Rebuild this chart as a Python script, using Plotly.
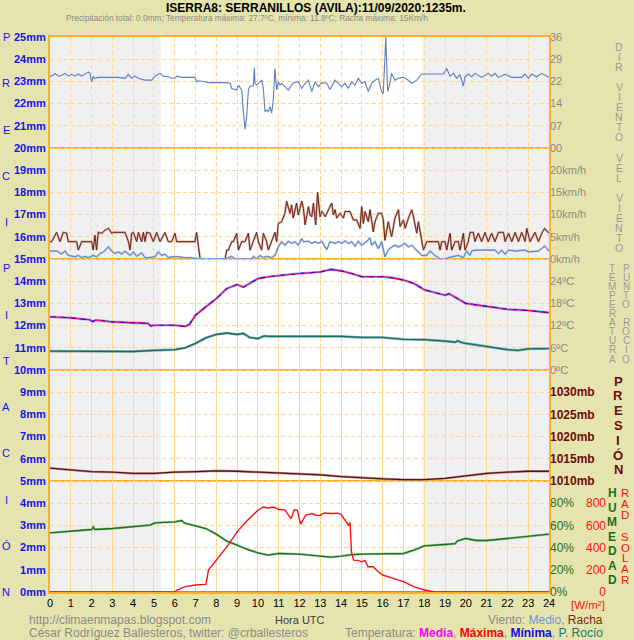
import plotly.graph_objects as go

# ---- values (hour UTC, value) ----
PRECIP = [(0.0, 0.0), (24.0, 0.0)]

WIND_DIR = [  # tens of degrees
    (0.0, 23.3), (0.08, 23.3), (0.24, 24.2), (0.40, 23.3), (0.56, 23.6), (0.72, 24.2),
    (0.88, 23.3), (1.04, 23.9), (1.20, 23.3), (1.36, 24.0), (1.52, 23.3), (1.68, 23.9),
    (1.84, 24.7), (1.92, 24.2), (2.00, 21.5), (2.08, 23.1), (2.16, 22.6), (2.32, 22.9),
    (2.97, 22.9), (3.29, 22.9), (3.61, 22.6), (3.77, 23.9), (3.93, 22.6), (4.09, 23.3),
    (4.25, 22.6), (4.57, 22.0), (4.89, 22.0), (5.05, 23.3), (5.29, 24.2), (5.45, 23.3),
    (5.69, 23.1), (5.85, 22.6), (6.01, 22.6), (6.09, 23.3), (6.33, 22.9), (6.97, 22.9),
    (7.05, 21.5), (7.13, 21.8), (7.46, 21.5), (7.62, 21.2), (8.42, 21.2), (8.66, 21.0),
    (8.74, 19.3), (8.98, 18.8), (9.06, 20.4), (9.22, 18.8), (9.30, 11.8), (9.38, 6.1),
    (9.46, 10.2), (9.54, 18.8), (9.62, 20.1), (9.78, 20.1), (9.83, 26.1), (9.86, 20.9),
    (9.94, 20.4), (10.10, 21.5), (10.18, 22.0), (10.26, 19.3), (10.34, 11.8), (10.42, 12.3),
    (10.50, 11.8), (10.58, 13.4), (10.66, 11.3), (10.74, 15.6), (10.82, 25.8), (10.90, 18.8),
    (10.98, 21.5), (11.06, 20.4), (11.14, 21.0), (11.30, 19.9), (11.46, 18.8), (11.62, 20.4),
    (11.70, 21.2), (11.94, 21.5), (12.11, 19.3), (12.27, 20.9), (12.43, 22.0), (12.59, 18.3),
    (12.75, 21.5), (12.91, 19.9), (13.07, 21.2), (13.31, 21.0), (13.47, 19.0), (13.71, 22.0),
    (13.87, 21.0), (14.03, 19.9), (14.19, 21.0), (14.35, 19.3), (14.51, 21.5), (14.67, 20.4),
    (14.83, 22.6), (14.99, 21.0), (15.15, 21.5), (15.31, 18.3), (15.47, 21.0), (15.63, 22.0),
    (15.79, 22.6), (15.95, 18.3), (16.03, 17.7), (16.08, 26.3), (16.15, 36.0), (16.24, 18.3),
    (16.35, 21.0), (16.43, 24.2), (16.59, 22.0), (16.76, 22.6), (17.00, 22.9), (17.24, 22.0),
    (17.40, 21.0), (17.64, 22.0), (17.88, 24.0), (18.92, 24.0), (19.08, 25.8), (19.24, 23.3),
    (19.40, 24.2), (19.56, 22.6), (19.72, 23.9), (19.88, 20.1), (19.96, 23.1), (20.12, 24.0),
    (20.28, 23.1), (20.44, 24.2), (20.76, 22.9), (21.08, 24.2), (21.24, 23.3), (21.40, 24.2),
    (21.57, 22.9), (21.89, 23.9), (22.21, 22.9), (22.69, 22.9), (22.85, 24.0), (23.01, 22.6),
    (23.17, 24.0), (23.41, 23.1), (23.65, 24.2), (24.0, 22.9),
]

WIND_GUST = [  # km/h
    (0.0, 3.9), (0.08, 3.9), (0.32, 6.0), (0.48, 3.9), (0.64, 6.0), (0.80, 5.8), (0.88, 3.9),
    (1.28, 3.9), (1.36, 2.0), (1.52, 3.9), (2.00, 3.9), (2.08, 2.0), (2.16, 5.4), (2.24, 2.0),
    (2.32, 6.0), (2.49, 5.8), (2.65, 6.5), (2.81, 6.9), (2.97, 5.8), (3.05, 6.0), (3.61, 6.0),
    (3.77, 3.9), (3.85, 2.0), (3.93, 5.8), (4.01, 6.0), (4.17, 3.9), (4.25, 6.0), (4.41, 3.9),
    (4.49, 6.0), (4.57, 3.9), (4.65, 6.0), (4.81, 5.8), (4.97, 3.9), (5.13, 6.0), (5.29, 3.9),
    (5.53, 6.0), (5.69, 3.9), (5.85, 3.9), (6.01, 5.8), (6.09, 3.9), (6.49, 3.9), (6.97, 3.9),
    (7.05, 6.0), (7.13, 2.7), (7.22, 0.0), (8.42, 0.0), (8.50, 2.0), (8.58, 2.0), (8.74, 3.9),
    (8.82, 3.9), (8.98, 5.8), (9.06, 2.0), (9.22, 3.9), (9.38, 3.9), (9.54, 5.8), (9.62, 2.0),
    (9.78, 3.9), (9.94, 6.0), (10.02, 3.9), (10.18, 2.0), (10.26, 5.8), (10.42, 3.9),
    (10.50, 2.0), (10.66, 3.9), (10.82, 6.0), (10.90, 3.9), (10.98, 8.0), (11.14, 8.4),
    (11.30, 10.3), (11.38, 13.0), (11.54, 10.3), (11.62, 12.2), (11.70, 9.2), (11.86, 12.6),
    (11.94, 9.9), (12.11, 13.0), (12.19, 11.4), (12.27, 7.7), (12.43, 11.8), (12.51, 9.9),
    (12.59, 9.5), (12.67, 12.6), (12.78, 7.7), (12.87, 15.0), (12.99, 9.5), (13.07, 10.7),
    (13.15, 10.3), (13.23, 9.5), (13.31, 10.3), (13.39, 10.7), (13.55, 12.6), (13.63, 9.9),
    (13.71, 11.1), (13.79, 9.2), (13.95, 10.3), (14.11, 9.2), (14.19, 10.7), (14.43, 10.7),
    (14.59, 8.8), (14.75, 8.8), (14.91, 6.9), (14.99, 11.8), (15.07, 8.0), (15.15, 10.7),
    (15.31, 8.4), (15.39, 11.1), (15.55, 6.1), (15.63, 8.4), (15.79, 10.3), (15.95, 10.3),
    (16.03, 8.8), (16.11, 4.2), (16.27, 8.4), (16.43, 5.0), (16.59, 9.2), (16.76, 11.1),
    (16.84, 7.3), (17.00, 8.8), (17.08, 6.9), (17.24, 9.2), (17.40, 11.1), (17.48, 9.5),
    (17.64, 5.8), (17.72, 8.4), (17.88, 3.9), (17.96, 2.0), (18.12, 3.9), (18.68, 3.9),
    (18.76, 2.0), (18.84, 3.9), (19.00, 3.9), (19.08, 2.0), (19.24, 5.8), (19.32, 2.0),
    (19.48, 3.9), (19.64, 3.9), (19.72, 2.0), (19.80, 3.9), (19.88, 5.8), (19.96, 2.0),
    (20.12, 3.9), (20.20, 6.0), (20.36, 6.0), (20.44, 3.9), (20.60, 5.8), (20.76, 3.9),
    (20.92, 6.0), (21.08, 3.9), (21.24, 5.8), (21.40, 3.9), (21.57, 6.0), (21.81, 6.0),
    (21.89, 3.9), (22.05, 5.8), (22.21, 3.9), (22.37, 6.0), (22.53, 3.9), (22.69, 6.0),
    (22.85, 3.9), (22.93, 6.9), (23.09, 3.9), (23.33, 6.0), (23.49, 3.9), (23.65, 5.8),
    (23.79, 6.9), (24.0, 5.8),
]

WIND_MEAN = [  # km/h
    (0.0, 1.8), (0.32, 1.8), (0.56, 1.1), (0.72, 1.8), (0.88, 0.8), (1.20, 0.5), (1.36, 0.8),
    (1.52, 0.3), (1.68, 0.6), (1.84, 0.3), (2.08, 0.8), (2.24, 0.5), (2.41, 1.2), (2.57, 1.6),
    (2.81, 2.7), (2.97, 1.8), (3.13, 1.2), (3.29, 1.6), (3.45, 1.1), (3.61, 1.8), (3.85, 0.8),
    (4.01, 1.6), (4.17, 0.6), (4.41, 1.4), (4.57, 0.3), (4.73, 0.3), (5.05, 0.5), (5.21, 1.6),
    (5.37, 0.8), (5.53, 1.1), (5.69, 0.3), (5.85, 0.5), (6.17, 0.5), (6.49, 0.3), (6.81, 0.3),
    (7.13, 0.0), (8.42, 0.0), (8.74, 0.6), (8.90, 0.0), (9.70, 0.0), (9.78, 0.6), (9.94, 0.0),
    (10.10, 0.8), (10.26, 0.3), (10.42, 0.6), (10.66, 0.3), (10.82, 0.8), (10.98, 2.7),
    (11.14, 3.9), (11.30, 3.1), (11.46, 4.0), (11.62, 3.5), (11.78, 3.9), (11.94, 3.1),
    (12.11, 4.6), (12.19, 3.9), (12.43, 4.0), (12.59, 3.5), (12.75, 3.9), (12.91, 3.5),
    (13.07, 4.0), (13.31, 2.1), (13.47, 3.9), (13.71, 3.5), (13.87, 3.9), (14.03, 3.5),
    (14.19, 4.1), (14.35, 3.5), (14.51, 3.9), (14.67, 2.9), (14.83, 4.0), (14.99, 3.1),
    (15.23, 3.9), (15.39, 4.8), (15.47, 3.1), (15.63, 3.9), (15.79, 2.3), (15.95, 3.9),
    (16.11, 0.5), (16.27, 2.0), (16.43, 2.7), (16.59, 3.1), (16.76, 2.7), (16.92, 3.1),
    (17.08, 3.5), (17.24, 2.7), (17.40, 3.1), (17.56, 2.3), (17.72, 1.6), (17.88, 0.8),
    (18.12, 0.8), (18.28, 1.8), (18.52, 0.8), (18.76, 0.0), (19.00, 0.0), (19.32, 0.5),
    (19.64, 0.8), (19.88, 0.3), (20.04, 1.8), (20.20, 0.8), (20.28, 1.8), (20.44, 2.0),
    (21.40, 2.0), (21.57, 1.2), (21.73, 2.0), (21.89, 1.1), (22.05, 2.0), (22.37, 1.8),
    (22.85, 2.0), (23.01, 1.6), (23.49, 1.8), (23.79, 2.9), (24.0, 1.8),
]

TEMP = [  # ºC (media / máxima / mínima almost identical)
    (0.0, 14.4), (0.5, 14.3), (1.0, 14.1), (1.5, 13.8), (1.9, 13.6), (2.05, 13.1), (2.2, 13.5),
    (3.0, 13.0), (4.0, 12.7), (4.7, 12.6), (4.85, 11.9), (5.0, 12.1), (6.0, 12.1), (6.3, 11.9),
    (6.5, 11.8), (6.7, 12.3), (7.0, 14.8), (7.5, 17.1), (7.8, 18.5), (8.0, 19.3), (8.5, 22.0),
    (9.0, 23.1), (9.3, 22.4), (9.6, 23.4), (10.0, 24.7), (10.5, 25.2), (11.0, 25.6),
    (11.5, 25.8), (12.0, 26.1), (12.5, 26.3), (13.0, 26.5), (13.5, 27.2), (14.0, 26.8),
    (14.5, 26.1), (15.0, 25.2), (16.0, 25.2), (16.5, 24.9), (17.0, 24.3), (17.5, 23.4),
    (18.0, 21.7), (18.5, 20.9), (19.0, 20.2), (19.2, 20.6), (19.4, 19.9), (20.0, 18.0),
    (21.0, 17.2), (22.0, 16.4), (23.0, 16.1), (24.0, 15.5),
]

DEW_POINT = [  # ºC
    (0.0, 5.1), (1.0, 5.1), (2.0, 4.9), (3.0, 4.9), (4.0, 5.0), (5.0, 5.3), (6.0, 5.5),
    (6.5, 6.0), (7.0, 7.2), (7.5, 8.7), (8.0, 9.6), (8.5, 10.0), (8.8, 9.8), (9.0, 9.6),
    (9.3, 9.9), (9.6, 8.8), (10.0, 8.5), (10.3, 9.2), (10.5, 9.1), (11.0, 9.1), (12.0, 9.1),
    (13.0, 8.9), (14.0, 9.1), (15.0, 8.8), (16.0, 8.8), (17.0, 8.3), (18.0, 8.2), (19.0, 7.8),
    (19.5, 7.5), (19.6, 7.9), (19.8, 7.4), (20.0, 7.2), (21.0, 6.3), (22.0, 5.5), (22.5, 5.3),
    (23.0, 5.7), (24.0, 5.8),
]

PRESSURE = [  # mb
    (0, 1012.9), (1, 1012.5), (2, 1012.1), (3, 1012.0), (4, 1011.7), (5, 1011.7), (6, 1012.0),
    (7, 1012.1), (8, 1012.3), (9, 1012.2), (10, 1012.0), (11, 1011.8), (12, 1011.6),
    (13, 1011.4), (14, 1011.0), (15, 1010.7), (16, 1010.5), (17, 1010.3), (18, 1010.3),
    (19, 1010.6), (20, 1011.2), (21, 1011.7), (22, 1012.0), (23, 1012.2), (24, 1012.2),
]

HUMIDITY = [  # %
    (0, 53.3), (1, 54.8), (2, 56.3), (2.08, 58.5), (2.16, 56.3), (3, 57.2), (4, 58.7),
    (4.81, 60.2), (5.05, 62.3), (6.0, 63.2), (6.33, 64.4), (6.49, 62.0), (7, 59.6), (7.5, 57.2),
    (8, 52.1), (8.5, 45.8), (9, 42.2), (9.5, 38.3), (10, 35.3), (10.5, 33.2), (11, 34.7),
    (12, 34.1), (13, 32.3), (13.5, 31.4), (14, 32.3), (14.5, 33.6), (15, 34.1), (16, 34.1),
    (17, 34.7), (17.5, 37.7), (18, 41.6), (19, 42.8), (19.48, 43.5), (19.6, 46.0), (20, 48.2),
    (20.5, 46.4), (21, 46.4), (22, 48.2), (23, 50.3), (24, 52.1),
]

SOLAR = [  # W/m2
    (0, 0), (6.0, 0), (6.1, 18), (6.5, 48), (7.0, 63), (7.5, 69), (7.55, 120), (7.62, 198),
    (8.0, 287), (8.5, 407), (9.0, 542), (9.5, 647), (10.0, 737), (10.25, 765), (10.5, 757),
    (10.75, 765), (11.0, 743), (11.3, 740), (11.45, 700), (11.6, 662), (11.75, 740),
    (11.9, 735), (12.05, 612), (12.3, 692), (12.6, 707), (12.8, 690), (13.0, 692), (13.2, 712),
    (13.5, 707), (13.8, 710), (14.0, 700), (14.2, 647), (14.35, 602), (14.43, 625),
    (14.5, 362), (14.6, 287), (14.8, 285), (15.0, 272), (15.15, 285), (15.3, 228),
    (15.55, 228), (15.8, 180), (16.0, 153), (16.5, 123), (17.0, 93), (17.5, 48), (18.0, 18),
    (18.5, 0), (24, 0),
]

NIGHT = [(0, 5.33), (17.93, 24)]
HOURS = list(range(25))

COLORS = {
    "paper": "#E6E4AE",
    "border": "#FFAE2E",
    "grid": "#FFD68E",
    "night": "#F0F0F0",
    "axis_grey": "#8A8A8A",
    "precip": "#1010F0",
    "wind": "#5A7EC0",
    "gust": "#7A1E0E",
    "gust_halo": "#C9B3AA",
    "pressure": "#6E0A0A",
    "humidity": "#1E701E",
    "solar": "#FF1010",
    "dew": "#0E6E6E",
}
FONT = "Liberation Sans, Arial, sans-serif"

L, R, T, B = 50, 549, 37, 592  # plot area in pixels


def paper(xp, yp):
    return (xp - L) / (R - L), (B - yp) / (B - T)


fig = go.Figure()


def add_line(points, axis, color, width=1.2, dash="solid"):
    xs, ys = zip(*points)
    fig.add_trace(go.Scatter(
        x=xs, y=ys, mode="lines", xaxis="x", yaxis=axis,
        line=dict(color=color, width=width, dash=dash), hoverinfo="skip",
    ))


add_line(PRECIP, "y", COLORS["precip"])
add_line(WIND_DIR, "y2", COLORS["wind"], 1.1)
add_line(WIND_GUST, "y3", COLORS["gust_halo"], 2.2)
add_line(WIND_GUST, "y3", COLORS["gust"], 1.0)
add_line(WIND_MEAN, "y3", "#AFC2E4", 2.0)
add_line(WIND_MEAN, "y3", COLORS["wind"], 1.0)
add_line(DEW_POINT, "y4", "#8FB0A8", 2.6)
add_line(DEW_POINT, "y4", COLORS["dew"], 1.3)
add_line(TEMP, "y4", "#A8A4FF", 2.6)
add_line(TEMP, "y4", "#FF0000", 1.1)                 # máxima
add_line(TEMP, "y4", "#1010E0", 1.1, "6px,4px")      # mínima
add_line(TEMP, "y4", "#FF00FF", 1.1, "2px,8px")      # media
add_line(PRESSURE, "y5", "#B09C9C", 2.4)
add_line(PRESSURE, "y5", COLORS["pressure"], 1.3)
add_line(HUMIDITY, "y6", "#9CC89C", 2.4)
add_line(HUMIDITY, "y6", COLORS["humidity"], 1.3)
add_line(SOLAR, "y7", COLORS["solar"], 1.4)

shapes = [dict(type="rect", xref="paper", yref="paper", x0=0, x1=1, y0=0, y1=1,
               fillcolor="#FFFFFF", line=dict(width=0), layer="below")]
for x0, x1 in NIGHT:
    shapes.append(dict(type="rect", xref="x", yref="paper", x0=x0, x1=x1, y0=0, y1=1,
                       fillcolor=COLORS["night"], line=dict(width=0), layer="below"))
for v in [5, 10, 15, 20]:
    shapes.append(dict(type="line", xref="paper", yref="y", x0=0, x1=1, y0=v, y1=v,
                       line=dict(color=COLORS["border"], width=2), layer="between"))

hour_ticks = dict(tickvals=HOURS, ticktext=[str(h) for h in HOURS], ticks="",
                  tickfont=dict(family=FONT, size=11, color="#000000"), range=[0, 24],
                  automargin=False)


def right_axis(domain, rng, vals, text, color, size=11, bold=False, standoff=None):
    ax = dict(
        domain=domain, range=rng, anchor="x", side="right", showgrid=False,
        zeroline=False, showline=False, ticks="", tickvals=vals, ticktext=text,
        automargin=False,
        tickfont=dict(family=FONT, size=size, color=color,
                      weight="bold" if bold else "normal"),
    )
    if standoff is not None:
        ax["ticklabelstandoff"] = standoff
    return ax


fig.update_layout(
    width=634, height=640, autosize=False,
    margin=dict(l=L, r=634 - R, t=T, b=640 - B, pad=0),
    paper_bgcolor=COLORS["paper"], plot_bgcolor="rgba(0,0,0,0)",
    showlegend=False, shapes=shapes,
    xaxis=dict(**hour_ticks, showgrid=True, gridcolor=COLORS["grid"], griddash="4px,3px",
               gridwidth=1, zeroline=False, showline=True, mirror=True,
               linecolor=COLORS["border"], linewidth=2),
    xaxis2=dict(**hour_ticks, overlaying="x", side="top", anchor="y", showgrid=False,
                zeroline=False, showline=False),
    yaxis=dict(domain=[0, 1], range=[0, 25], tickvals=list(range(26)),
               ticktext=[f"{v}mm" for v in range(26)], ticks="", automargin=False,
               tickfont=dict(family=FONT, size=11, color="#1414F0", weight="bold"),
               showgrid=True, gridcolor=COLORS["grid"], griddash="4px,3px", gridwidth=1,
               zeroline=False, showline=True, mirror=True,
               linecolor=COLORS["border"], linewidth=2),
    yaxis2=right_axis([0.8, 1.0], [0, 36], [0, 7.2, 14.4, 21.6, 28.8, 36],
                      ["00", "07", "14", "22", "29", "36"], COLORS["axis_grey"]),
    yaxis3=right_axis([0.6, 0.8], [0, 25], [0, 5, 10, 15, 20],
                      [f"{v}km/h" for v in [0, 5, 10, 15, 20]], COLORS["axis_grey"]),
    yaxis4=right_axis([0.4, 0.6], [0, 30], [0, 6, 12, 18, 24],
                      [f"{v}ºC" for v in [0, 6, 12, 18, 24]], COLORS["axis_grey"]),
    yaxis5=right_axis([0.2, 0.4], [1010, 1035], [1010, 1015, 1020, 1025, 1030],
                      [f"{v}mb" for v in [1010, 1015, 1020, 1025, 1030]],
                      COLORS["pressure"], size=12, bold=True),
    yaxis6=right_axis([0.0, 0.2], [0, 100], [0, 20, 40, 60, 80],
                      [f"{v}%" for v in [0, 20, 40, 60, 80]], COLORS["humidity"], size=12),
    yaxis7=dict(**right_axis([0.0, 0.2], [0, 1000], [0, 200, 400, 600, 800],
                             ["\u2007\u20070", "200", "400", "600", "800"],
                             COLORS["solar"], size=12, standoff=36), overlaying="y6"),
)

annotations = []


def note(text, xp, yp, color, size=11, xanchor="center", bold=False, family=FONT):
    x, y = paper(xp, yp)
    annotations.append(dict(
        text=text, x=x, y=y, xref="paper", yref="paper", xanchor=xanchor,
        yanchor="middle", showarrow=False,
        font=dict(family=family, size=size, color=color,
                  weight="bold" if bold else "normal"),
    ))


def stack(text, xp, y0, step, color, size=11, bold=False):
    for i, ch in enumerate(text):
        if ch != " ":
            note(ch, xp, y0 + i * step, color, size, bold=bold)


note("ISERRA8: SERRANILLOS (AVILA):11/09/2020:1235m.", 316, 8, "#000000", 12, bold=True)
note("Precipitación total: 0.0mm; Temperatura máxima: 27.7ºC, mínima: 11.8ºC; "
     "Racha máxima: 15Km/h", 247, 18, "#8A8A8A", 8.3)

for i, ch in enumerate("PRECIPITACIÓN"):
    note(ch, 6, T + i * (B - T) / 12, "#1414F0", 11)

stack("DIR VIENTO", 619, 47, 10, "#9A9A9A", 10.5)
stack("VEL VIENTO", 619, 158, 10, "#9A9A9A", 10.5)
stack("TEMPERATURA", 612, 268, 9.1, "#9A9A9A", 10)
stack("PUNTO ROCIO", 626, 268, 9.1, "#9A9A9A", 10)
stack("PRESIÓN", 618, 381, 14.8, COLORS["pressure"], 13, bold=True)
stack("HUMEDAD", 612, 493, 14.5, COLORS["humidity"], 12, bold=True)
stack("RAD SOLAR", 625, 493, 10.9, COLORS["solar"], 11.5)
note("[W/m²]", 588, 605, COLORS["solar"], 11.5)

note("http://climaenmapas.blogspot.com", 27, 620, "#8A8A8A", 12, xanchor="left")
note("César Rodríguez Ballesteros, twitter: @crballesteros", 27, 633, "#8A8A8A", 12,
     xanchor="left")
note("Hora UTC", 300, 620, "#404040", 11)
note("Viento: <span style='color:#6A94D4'>Medio</span>, "
     "<span style='color:#7A2A10'>Racha</span>", 605, 620, "#8A8A8A", 12, xanchor="right")
note("Temperatura: <b><span style='color:#FF00FF'>Media</span></b>, "
     "<b><span style='color:#FF0000'>Máxima</span></b>, "
     "<b><span style='color:#1010E0'>Mínima</span></b>, "
     "<span style='color:#107878'>P. Rocío</span>", 605, 633, "#8A8A8A", 12, xanchor="right")

fig.update_layout(annotations=annotations)
fig.write_html("out.html", config={"displayModeBar": False},
               post_script="document.body.style.margin = '0';")
